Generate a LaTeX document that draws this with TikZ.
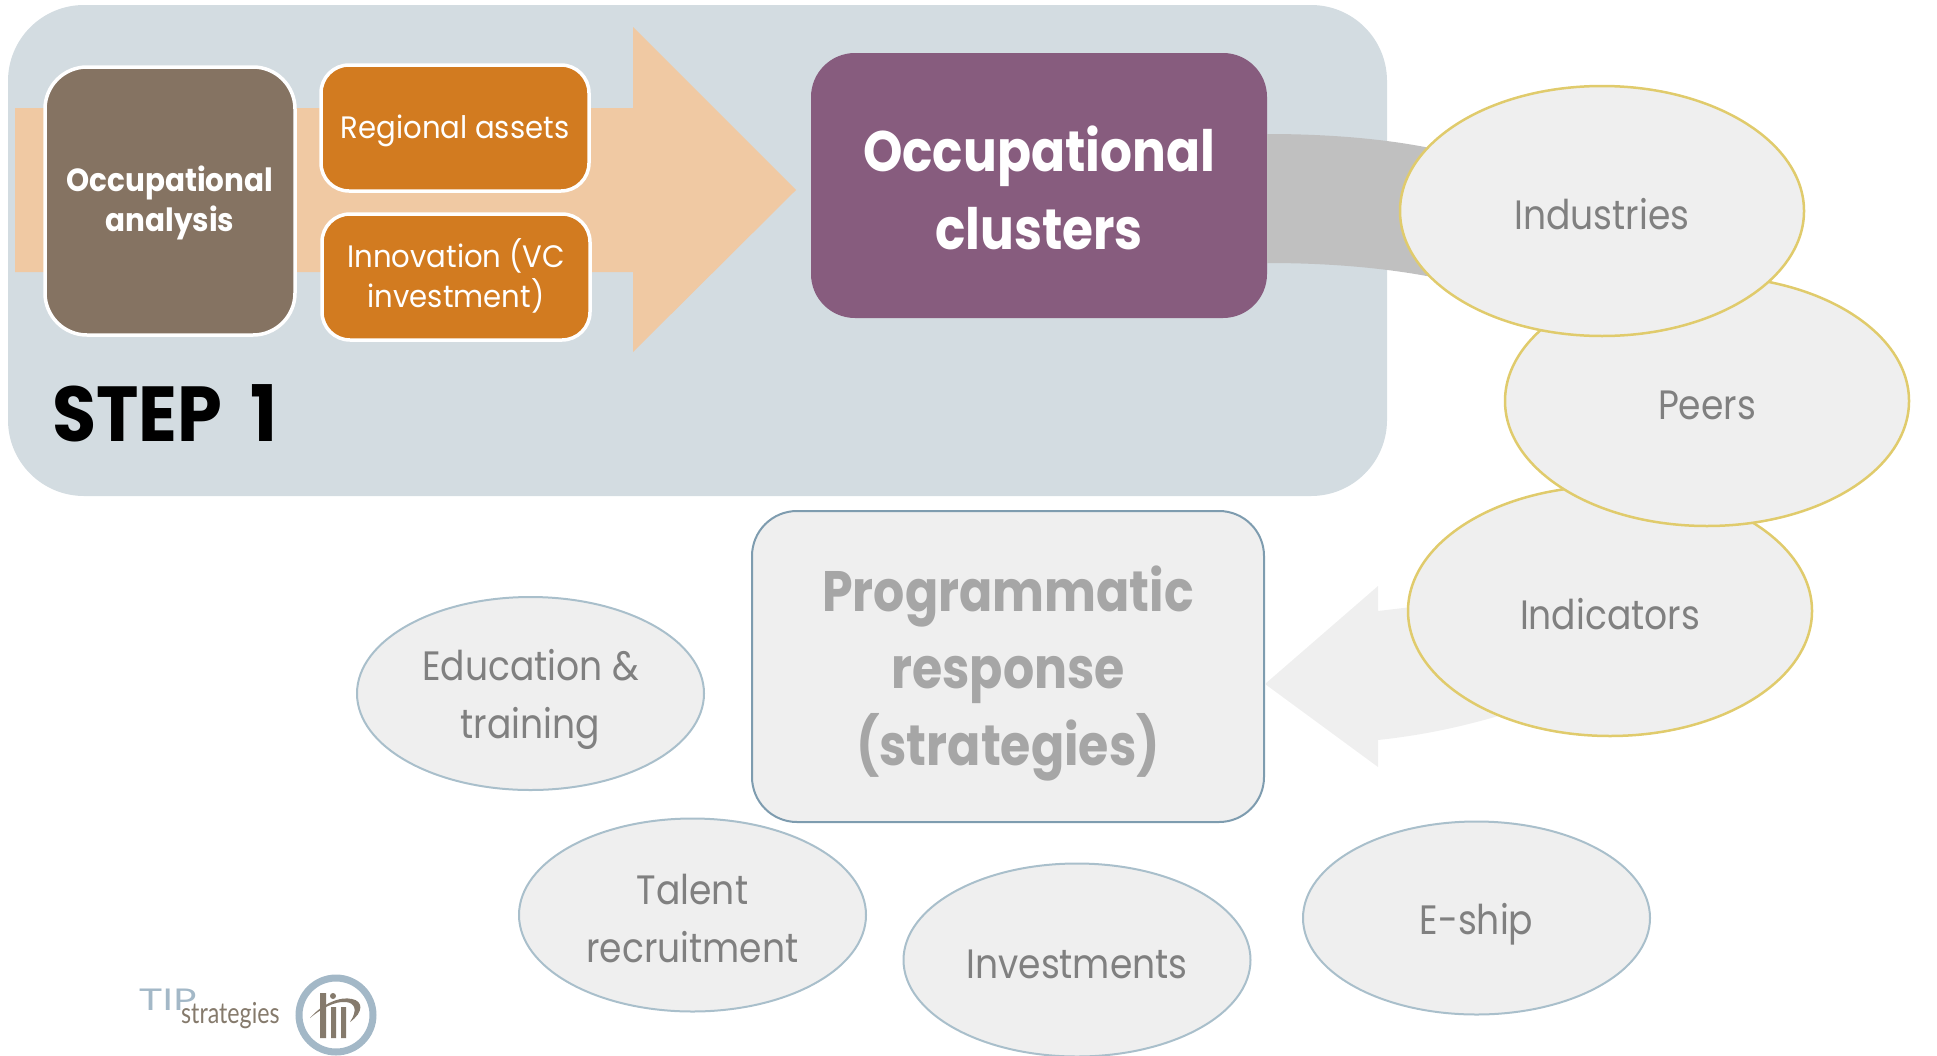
\documentclass[tikz,border=0pt]{standalone}
\usepackage{fontspec}
\usetikzlibrary{shapes.geometric}
\setmainfont{Poppins}[FakeStretch=0.88]
\newfontfamily\logofont{Lato}
\definecolor{panelblue}{HTML}{D3DCE1}
\definecolor{peach}{HTML}{F0C9A3}
\definecolor{taupe}{HTML}{857362}
\definecolor{orangebox}{HTML}{D27B20}
\definecolor{plum}{HTML}{875C7E}
\definecolor{softgray}{HTML}{EFEFEF}
\definecolor{midgray}{HTML}{C0C0C0}
\definecolor{goldline}{HTML}{E0CB6C}
\definecolor{blueline}{HTML}{A9BFCB}
\definecolor{slateline}{HTML}{7E9CAF}
\definecolor{labelgray}{HTML}{808080}
\definecolor{titlegray}{HTML}{A6A6A6}
\definecolor{logoblue}{HTML}{A3B8C7}
\definecolor{logobrown}{HTML}{857A6C}
\newcommand{\fs}[2]{\fontsize{#1}{#2}\selectfont}
\newcommand{\sline}{\rule[-.17em]{0pt}{1.22em}}
\newcommand{\tline}{\rule[-.25em]{0pt}{1.2em}}
\tikzset{
  box/.style={rectangle,inner sep=0pt,align=center},
  whitebox/.style={box,draw=white,line width=3.5pt,text=white},
  oval/.style={ellipse,inner sep=0pt,minimum width=#1,minimum height=193pt,align=center,fill=softgray,text=labelgray,font=\fs{41}{58}},
  goldoval/.style={oval=404pt,minimum height=250pt,draw=goldline,line width=2.5pt},
  blueoval/.style={oval=347pt,draw=blueline,line width=2pt},
  orangefill/.style={whitebox,minimum width=268pt,minimum height=126pt,rounded corners=28pt,fill=orangebox,font=\fs{31}{40}\addfontfeature{FakeStretch=0.94}},
}
\begin{document}
\begin{tikzpicture}[x=1pt,y=-1pt]
\useasboundingbox (0,0) rectangle (1937,1055);
% panel
\node[box,minimum width=1379pt,minimum height=491pt,rounded corners=76pt,fill=panelblue] (panel) at (697.5,250.5) {};
% big arrow
\coordinate (a0) at (15,108);\coordinate (a1) at (633,108);\coordinate (a2) at (633,27);
\coordinate (a3) at (796,190);\coordinate (a4) at (633,352);\coordinate (a5) at (633,272);\coordinate (a6) at (15,272);
\fill[peach] (a0)--(a1)--(a2)--(a3)--(a4)--(a5)--(a6)--cycle;
% boxes
\node[whitebox,minimum width=250pt,minimum height=268pt,rounded corners=42pt,fill=taupe,font=\fs{32}{40}\bfseries\addfontfeature{FakeStretch=0.92}] (analysis) at (170,201) {\tline Occupational\\\tline analysis};
\node[orangefill] (assets) at (455,128) {\tline Regional assets};
\node[orangefill] (innov) at (456,277) {\tline Innovation (VC\\\tline investment)};
\node[box,minimum width=456pt,minimum height=265pt,rounded corners=44pt,fill=plum,text=white,font=\fs{57}{78}\bfseries\addfontfeature{FakeStretch=0.88}] (clusters) at (1039,185.5) {\sline Occupational\\\sline clusters};
\node[box,anchor=base west,font=\fs{78}{80}\bfseries\addfontfeature{FakeStretch=0.92},text=black] (step) at (52,441) {STEP\hspace{28pt}1};
% ovals on the right with their ribbons
\coordinate (ga) at (clusters.east |- 0,134);\coordinate (gb) at (1430,148);
\coordinate (gc) at (1432,277);\coordinate (gd) at (clusters.east |- 0,263);
\fill[midgray] (ga) .. controls (1330,134) and (1385,139) .. (gb) -- (gc) .. controls (1385,268) and (1330,263) .. (gd) -- cycle;
\node[box,minimum width=512pt,minimum height=311pt,rounded corners=45pt,fill=softgray,draw=slateline,line width=2pt,text=titlegray,font=\fs{57}{77}\bfseries\addfontfeature{FakeStretch=0.86}] (prog) at (1008,666.5) {\sline Programmatic\\\sline response\\\sline (strategies)};
\coordinate (la) at (1420,606);\coordinate (lb) at (1378,611);\coordinate (lc) at (1378,586);
\coordinate (ld) at (prog.east |- 0,684);\coordinate (le) at (1378,767);\coordinate (lf) at (1378,740);\coordinate (lg) at (1505,714);
\fill[softgray] (la)--(lb)--(lc)--(ld)--(le)--(lf) .. controls (1425,735) and (1465,726) .. (lg)--cycle;
\node[goldoval] (indicators) at (1610,611) {\sline Indicators};
\node[goldoval] (peers) at (1707,401) {\sline Peers};
\node[goldoval] (industries) at (1602,211) {\sline Industries};
\node[blueoval] (education) at (530.5,693.5) {\sline Education \&\\\sline training};
\node[blueoval] (talent) at (692.5,915) {\sline Talent\\\sline recruitment};
\node[blueoval] (invest) at (1077,960) {\sline Investments};
\node[blueoval] (eship) at (1476.5,918) {\sline E-ship};
% logo
\node[anchor=base west,inner sep=0pt,text=logoblue,font=\logofont\fs{30}{30}\addfontfeature{FakeStretch=1.3}] (tip) at (139,1010) {TIP};
\node[anchor=base west,inner sep=0pt,text=logobrown,font=\logofont\fs{29}{29}\addfontfeature{FakeStretch=0.8}] (strat) at (181,1023) {strategies};
\node[circle,draw=logoblue,line width=7pt,minimum size=74pt,inner sep=0pt,fill=white] (seal) at (336,1015) {};
\fill[logobrown] (320,993) rectangle (326,1038) (331,1007) rectangle (336,1038) (341,1007) rectangle (346,1038);
\fill[logobrown] (333,996) circle (3pt);
\fill[logobrown] (310,1018) .. controls (322,1004) and (340,996) .. (352,999) .. controls (363,1001) and (364,1012) .. (350,1022) .. controls (358,1010) and (355,1003) .. (346,1002) .. controls (335,1001) and (322,1008) .. (310,1018) -- cycle;
\end{tikzpicture}
\end{document}
